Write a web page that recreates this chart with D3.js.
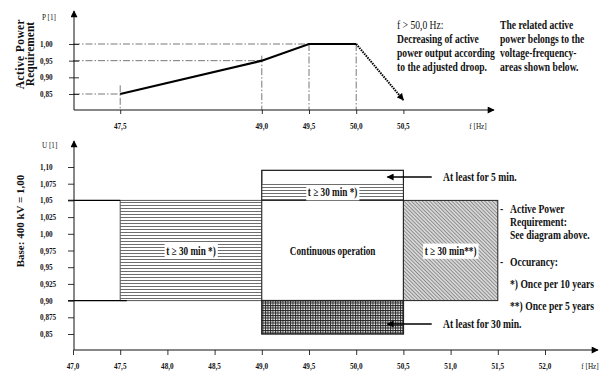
<!DOCTYPE html>
<html>
<head>
<meta charset="utf-8">
<script src="https://cdn.jsdelivr.net/npm/d3@7"></script>
<style>
  body { margin: 0; background: #fff; }
  svg text { font-family: "Liberation Serif", "Times New Roman", serif; font-weight: bold; fill: #111; }
</style>
</head>
<body>
<svg id="chart" width="609" height="372"></svg>
<script>
// ---- data ----
const topFreq = [47.5, 49.0, 49.5, 50.0];
const topPower = [0.85, 0.95, 1.00, 1.00];
const droopFreq = [50.0, 50.5];
const droopPower = [1.00, 0.832];
const topXTicks = [47.5, 49.0, 49.5, 50.0, 50.5];
const topXLabels = ["47,5", "49,0", "49,5", "50,0", "50,5"];
const topYTicks = [0.85, 0.90, 0.95, 1.00];
const topYLabels = ["0,85", "0,90", "0,95", "1,00"];

const botXTicks = [47.0, 47.5, 48.0, 48.5, 49.0, 49.5, 50.0, 50.5, 51.0, 51.5, 52.0];
const botXLabels = ["47,0", "47,5", "48,0", "48,5", "49,0", "49,5", "50,0", "50,5", "51,0", "51,5", "52,0"];
const botYTicks = [0.85, 0.875, 0.90, 0.925, 0.95, 0.975, 1.00, 1.025, 1.05, 1.075, 1.10];
const botYLabels = ["0,85", "0,875", "0,90", "0,925", "0,95", "0,975", "1,00", "1,025", "1,05", "1,075", "1,10"];

// voltage-frequency areas
const areaName = ["left", "continuous", "upperBox", "upperBand", "lower", "right"];
const areaF0 = [47.5, 49.0, 49.0, 49.0, 49.0, 50.5];
const areaF1 = [49.0, 50.5, 50.5, 50.5, 50.5, 51.5];
const areaU0 = [0.90, 0.90, 1.05, 1.05, 0.85, 0.90];
const areaU1 = [1.05, 1.05, 1.095, 1.075, 0.90, 1.05];
const areaFill = ["url(#hlines)", "#fff", "#fff", "url(#hlines)", "url(#grid)", "url(#diag)"];

const svg = d3.select("#chart");
const SX = 0.8; // the original type is narrow

// scales
const x = d3.scaleLinear().domain([47, 52]).range([73, 545]);
const yTop = d3.scaleLinear().domain([0.85, 1.00]).range([94, 44]);
const yBot = d3.scaleLinear().domain([0.85, 1.10]).range([334, 167]);

// patterns + arrow markers
const defs = svg.append("defs");
const hp = defs.append("pattern").attr("id", "hlines").attr("patternUnits", "userSpaceOnUse")
  .attr("width", 4).attr("height", 3);
hp.append("rect").attr("width", 4).attr("height", 3).attr("fill", "#fff");
hp.append("line").attr("x1", 0).attr("x2", 4).attr("y1", 1.5).attr("y2", 1.5)
  .attr("stroke", "#6e6e6e").attr("stroke-width", 1);

const dp = defs.append("pattern").attr("id", "diag").attr("patternUnits", "userSpaceOnUse")
  .attr("width", 2.6).attr("height", 2.6).attr("patternTransform", "rotate(-45)");
dp.append("rect").attr("width", 2.6).attr("height", 2.6).attr("fill", "#d6d6d6");
dp.append("line").attr("x1", 0).attr("x2", 0).attr("y1", 0).attr("y2", 2.6)
  .attr("stroke", "#666").attr("stroke-width", 1.2);

const gp = defs.append("pattern").attr("id", "grid").attr("patternUnits", "userSpaceOnUse")
  .attr("width", 2.5).attr("height", 2.5);
gp.append("rect").attr("width", 2.5).attr("height", 2.5).attr("fill", "#f4f4f4");
gp.append("path").attr("d", "M0,0.5H2.5M0.5,0V2.5").attr("stroke", "#222").attr("stroke-width", 0.9);

defs.append("marker").attr("id", "arrow").attr("viewBox", "0 0 10 10")
  .attr("refX", 9).attr("refY", 5).attr("markerWidth", 8).attr("markerHeight", 7)
  .attr("markerUnits", "userSpaceOnUse").attr("orient", "auto")
  .append("path").attr("d", "M0,0L10,5L0,10Z").attr("fill", "#000");

// text helper, narrowed horizontally
function label(x0, y0, txt, size, anchor, weight) {
  const g = svg.append("g").attr("transform", `translate(${x0},${y0}) scale(${SX},1)`);
  const t = g.append("text").attr("text-anchor", anchor || "start")
    .style("font-size", size + "px").text(txt);
  if (weight) t.style("font-weight", weight);
  return g;
}

// boxed label with white background
function boxedLabel(x0, y0, txt, size) {
  const g = label(x0, y0, txt, size, "middle");
  const bb = g.select("text").node().getBBox();
  g.insert("rect", "text").attr("x", bb.x - 2).attr("y", bb.y - 1)
    .attr("width", bb.width + 4).attr("height", bb.height + 2).attr("fill", "#fff");
}

const dashDot = "7,2,1.5,2";

// ================= TOP CHART =================
// dash-dot guides
[[1.00, 50.0], [0.95, 49.0], [0.85, 47.5]].forEach(([p, f]) => {
  svg.append("line").attr("x1", x(47)).attr("x2", x(f)).attr("y1", yTop(p)).attr("y2", yTop(p))
    .attr("stroke", "#555").attr("stroke-width", 0.8).attr("stroke-dasharray", dashDot);
});
[[47.5, 0.876], [49.0, 0.965], [49.5, 1.00], [50.0, 1.00]].forEach(([f, p]) => {
  svg.append("line").attr("x1", x(f)).attr("x2", x(f)).attr("y1", yTop(p)).attr("y2", 110)
    .attr("stroke", "#555").attr("stroke-width", 0.8).attr("stroke-dasharray", dashDot);
});

// x axis
const topXAxis = svg.append("g").attr("transform", "translate(0,110)")
  .call(d3.axisBottom(x).tickValues(topXTicks).tickSizeInner(4).tickSizeOuter(0));
topXAxis.select(".domain").remove();
topXAxis.selectAll("line").attr("stroke", "#333");
topXAxis.selectAll("text").remove();
topXTicks.forEach((d, i) => label(x(d), 129, topXLabels[i], 9, "middle"));
svg.append("line").attr("x1", 74).attr("x2", 494).attr("y1", 110).attr("y2", 110)
  .attr("stroke", "#111").attr("stroke-width", 1).attr("marker-end", "url(#arrow)");
label(478, 129, "f [Hz]", 9, "middle", "normal");

// y axis
const topYAxis = svg.append("g").attr("transform", "translate(74,0)")
  .call(d3.axisLeft(yTop).tickValues(topYTicks).tickSizeInner(5).tickSizeOuter(0));
topYAxis.select(".domain").remove();
topYAxis.selectAll("line").attr("stroke", "#333").attr("x2", 5).attr("x1", -5);
topYAxis.selectAll("text").remove();
topYTicks.forEach((d, i) => label(40, yTop(d) + 3, topYLabels[i], 9, "start"));
svg.append("line").attr("x1", 74).attr("x2", 74).attr("y1", 110).attr("y2", 11)
  .attr("stroke", "#111").attr("stroke-width", 1).attr("marker-end", "url(#arrow)");
label(42, 20, "P [1]", 9, "start", "normal");

// power curve
const line = d3.line().x(d => x(d[0])).y(d => yTop(d[1]));
svg.append("path").datum(topFreq.map((f, i) => [f, topPower[i]]))
  .attr("d", line).attr("fill", "none").attr("stroke", "#000").attr("stroke-width", 2.2);
svg.append("path").datum(droopFreq.map((f, i) => [f, droopPower[i]]))
  .attr("d", line).attr("fill", "none").attr("stroke", "#000").attr("stroke-width", 2)
  .attr("stroke-dasharray", "1.5,1").attr("marker-end", "url(#arrow)");

// y title
svg.append("text").attr("transform", "translate(24,54) rotate(-90)").attr("text-anchor", "middle")
  .style("font-size", "11.5px").style("letter-spacing", "0.4px").text("Active Power");
svg.append("text").attr("transform", "translate(34,54) rotate(-90)").attr("text-anchor", "middle")
  .style("font-size", "11.5px").text("Requirement");

// notes
["f > 50,0 Hz:", "Decreasing of active", "power output according", "to the adjusted droop."]
  .forEach((t, i) => label(397, 29 + i * 14, t, 12, "start", i === 0 ? "normal" : "bold"));
["The related active", "power belongs to the", "voltage-frequency-", "areas shown below."]
  .forEach((t, i) => label(500, 29 + i * 14, t, 12, "start"));

// ================= BOTTOM CHART =================
// areas
areaName.forEach((n, i) => {
  svg.append("rect").attr("class", "area-" + n)
    .attr("x", x(areaF0[i])).attr("y", yBot(areaU1[i]))
    .attr("width", x(areaF1[i]) - x(areaF0[i])).attr("height", yBot(areaU0[i]) - yBot(areaU1[i]))
    .attr("fill", areaFill[i])
    .attr("stroke", n === "upperBand" ? "none" : (n === "left" ? "#555" : "#222"))
    .attr("stroke-width", n === "lower" ? 1.4 : 1);
});
// upper box outline on top of its band
svg.append("rect").attr("x", x(49.0)).attr("y", yBot(1.095))
  .attr("width", x(50.5) - x(49.0)).attr("height", yBot(1.05) - yBot(1.095))
  .attr("fill", "none").attr("stroke", "#222").attr("stroke-width", 1);

// limits 0.90 and 1.05 left of the areas
[[1.05, 47.5], [0.90, 47.57]].forEach(([u, f]) => {
  svg.append("line").attr("x1", 68).attr("x2", x(f)).attr("y1", yBot(u)).attr("y2", yBot(u))
    .attr("stroke", "#000").attr("stroke-width", 1.4);
});

// area labels
boxedLabel((x(47.5) + x(49.0)) / 2, yBot(0.975) + 4, "t ≥ 30 min *)", 11.5);
boxedLabel((x(49.0) + x(50.5)) / 2, yBot(1.0625) + 4, "t ≥ 30 min *)", 11.5);
label((x(49.0) + x(50.5)) / 2, yBot(0.975) + 4, "Continuous operation", 11.5, "middle");
boxedLabel((x(50.5) + x(51.5)) / 2, yBot(0.975) + 4, "t ≥ 30 min**)", 11.5);

// arrows to the extra boxes
[[1.085, "At least for 5 min."], [0.865, "At least for 30 min."]].forEach(([u, t]) => {
  svg.append("line").attr("x1", x(50.8)).attr("x2", x(50.33)).attr("y1", yBot(u)).attr("y2", yBot(u))
    .attr("stroke", "#000").attr("stroke-width", 1.4).attr("marker-end", "url(#arrow)");
  label(x(50.92), yBot(u) + 4, t, 12, "start");
});

// right notes
label(500, 213, "-", 12, "start");
["Active Power", "Requirement:", "See diagram above."].forEach((t, i) => label(510, 213 + i * 13, t, 12, "start"));
label(500, 266, "-", 12, "start");
label(510, 266, "Occurancy:", 12, "start");
label(510, 288, "*) Once per 10 years", 12, "start");
label(510, 310, "**) Once per 5 years", 12, "start");

// x axis
const botXAxis = svg.append("g").attr("transform", "translate(0,350)")
  .call(d3.axisBottom(x).tickValues(botXTicks).tickSizeInner(5).tickSizeOuter(0));
botXAxis.select(".domain").remove();
botXAxis.selectAll("line").attr("stroke", "#333");
botXAxis.selectAll("text").remove();
botXTicks.forEach((d, i) => label(x(d), 369, botXLabels[i], 9, "middle"));
svg.append("line").attr("x1", 74).attr("x2", 598).attr("y1", 350).attr("y2", 350)
  .attr("stroke", "#111").attr("stroke-width", 1).attr("marker-end", "url(#arrow)");
label(590, 369, "f [Hz]", 9, "middle", "normal");

// y axis
const botYAxis = svg.append("g").attr("transform", "translate(74,0)")
  .call(d3.axisLeft(yBot).tickValues(botYTicks).tickSizeInner(6).tickSizeOuter(0));
botYAxis.select(".domain").remove();
botYAxis.selectAll("line").attr("stroke", "#333");
botYAxis.selectAll("text").remove();
botYTicks.forEach((d, i) => label(40, yBot(d) + 3, botYLabels[i], 9, "start"));
svg.append("line").attr("x1", 74).attr("x2", 74).attr("y1", 350).attr("y2", 141)
  .attr("stroke", "#111").attr("stroke-width", 1).attr("marker-end", "url(#arrow)");
label(42, 148, "U [1]", 9, "start", "normal");

svg.append("text").attr("transform", "translate(24,221) rotate(-90)").attr("text-anchor", "middle")
  .style("font-size", "11px").text("Base: 400 kV = 1,00");
</script>
</body>
</html>
